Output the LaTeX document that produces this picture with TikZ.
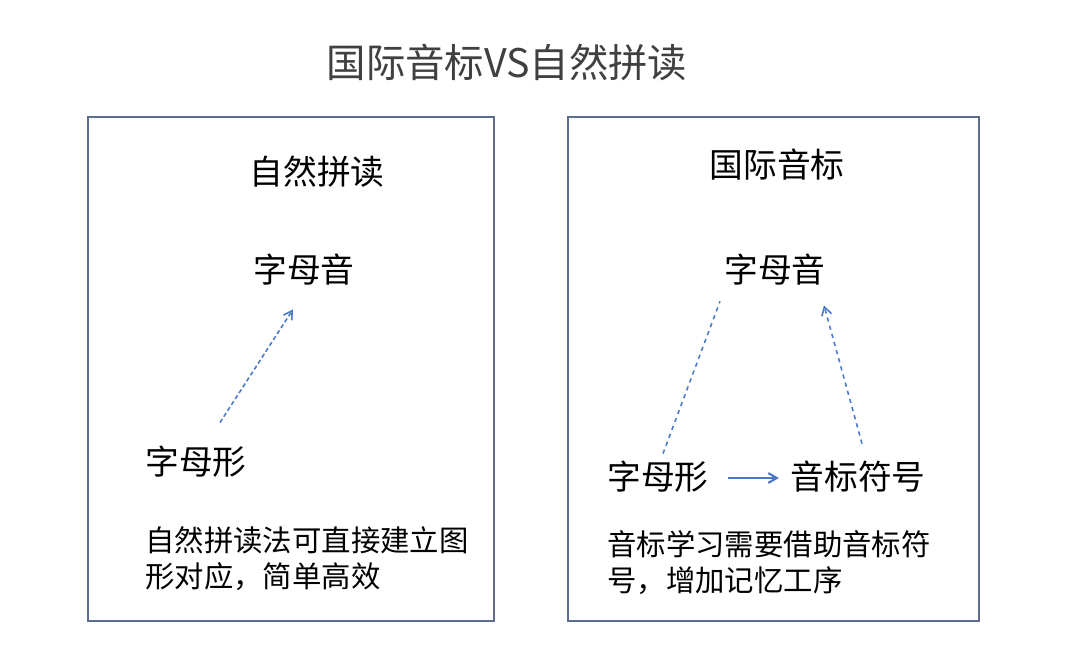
\documentclass[tikz,border=0pt]{standalone}
\usepackage{fontspec}
\newfontfamily\cjk{Noto Sans CJK SC}
\usepackage{xcolor}
\usetikzlibrary{arrows.meta,positioning,calc}
\definecolor{boxline}{HTML}{5B6C8F}
\definecolor{linkblue}{HTML}{4A78C8}
\definecolor{titlegray}{HTML}{404040}

\begin{document}
\begin{tikzpicture}[x=0.025cm,y=-0.025cm,>={Straight Barb[length=6pt,width=7pt]},
  panel/.style={draw=boxline,line width=1.3pt},
  word/.style={font=\cjk\fontsize{24}{28}\selectfont,inner sep=1pt},
  note/.style={font=\cjk\fontsize{20.9}{25}\selectfont,align=left,anchor=base west,inner sep=0pt},
  link/.style={linkblue,line width=1.1pt}]
  \useasboundingbox[fill=white] (0,0) rectangle (1080,663);

  % title and the two panels
  \node[font=\cjk\fontsize{28}{32}\selectfont,text=titlegray] (title) at (507,62) {国际音标VS自然拼读};
  \draw[panel] (88,117) rectangle (494,621);
  \draw[panel] (568,117) rectangle (979,621);

  % left panel: phonics
  \node[word] (lhead) at (317,172) {自然拼读};
  \node[word] (lsound) at (304,270) {字母音};
  \node[word] (lshape) at (196,462) {字母形};
  \node[note] (lnote) at (145,587) {自然拼读法可直接建立图\\形对应，简单高效};
  \draw[link,densely dashed,->] ($(lshape.north)+(24,-22)$) -- ($(lsound.south)+(-11,22)$);

  % right panel: phonetic symbols
  \node[word] (rhead) at (777,165) {国际音标};
  \node[word] (rsound) at (775,270) {字母音};
  \node[word] (rshape) at (658,477) {字母形};
  \node[word] (rsym) at (858,477) {音标符号};
  \node[note] (rnote) at (607,591) {音标学习需要借助音标符\\号，增加记忆工序};
  \draw[link,dashed] ($(rshape.north)+(5,-6)$) -- ($(rsound.south)+(-55,14)$);
  \draw[link,dashed,->] ($(rsym.north)+(4,-16)$) -- ($(rsound.south)+(49,18)$);
  \draw[link,line width=1.5pt,->] ($(rshape.east)+(18,1)$) -- ($(rsym.west)+(-10,1)$);
\end{tikzpicture}
\end{document}
